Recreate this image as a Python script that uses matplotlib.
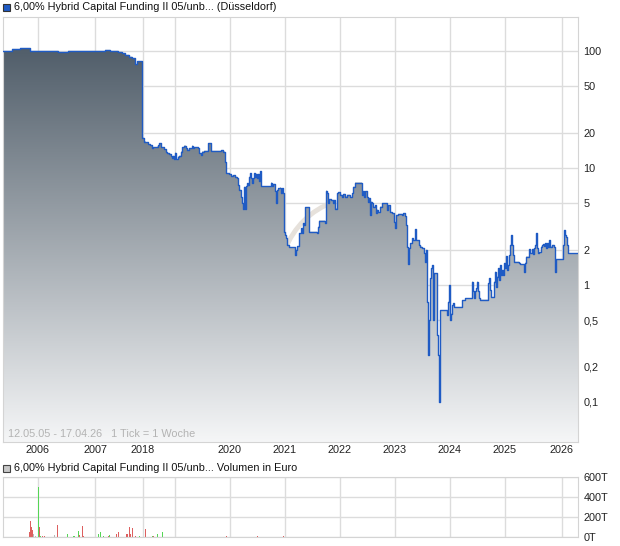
import numpy as np
import matplotlib
matplotlib.use('Agg')
import matplotlib.pyplot as plt
from matplotlib.colors import LinearSegmentedColormap
from matplotlib.patches import Rectangle, PathPatch
from matplotlib.path import Path
from matplotlib.ticker import NullLocator

plt.rcParams['font.family'] = ['Liberation Sans', 'DejaVu Sans']

# 1 tick = 1 week; the axis skips the years without quotes (2007 -> 2018)
weeks = [0, 9, 17, 27, 55, 65, 102, 107, 115, 119, 122, 126, 129, 132, 134, 139,
         141, 143, 145, 147, 149, 150, 154, 155, 156, 158, 160, 161, 163, 164, 166,
         168, 169, 170, 171, 172, 173, 175, 176, 178, 179, 181, 183, 184, 186, 189,
         190, 191, 195, 196, 198, 199, 201, 205, 208, 218, 220, 222, 223, 226, 228,
         230, 232, 234, 235, 236, 238, 239, 240, 241, 242, 243, 244, 245, 246, 247,
         248, 249, 250, 251, 252, 253, 254, 255, 256, 257, 258, 268, 269, 270, 272,
         273, 274, 275, 277, 278, 279, 280, 281, 282, 283, 284, 286, 292, 293, 294,
         296, 298, 299, 300, 301, 302, 306, 314, 315, 316, 322, 323, 324, 325, 326,
         328, 330, 331, 332, 334, 335, 337, 339, 340, 342, 344, 347, 349, 350, 352,
         359, 360, 361, 362, 364, 365, 366, 367, 368, 369, 370, 372, 373, 374, 375,
         377, 379, 384, 385, 387, 389, 391, 392, 393, 395, 399, 400, 402, 403, 404,
         405, 406, 407, 409, 410, 412, 413, 416, 417, 419, 421, 422, 423, 424, 425,
         426, 427, 428, 429, 430, 431, 434, 435, 436, 437, 444, 445, 446, 447, 448,
         449, 450, 451, 459, 462, 469, 470, 471, 472, 473, 474, 475, 476, 477, 485,
         486, 487, 488, 491, 492, 493, 494, 495, 496, 497, 498, 499, 500, 501, 502,
         503, 504, 505, 506, 507, 508, 509, 510, 511, 516, 517, 521, 522, 523, 526,
         527, 529, 530, 531, 532, 533, 534, 535, 536, 538, 539, 540, 541, 542, 543,
         544, 545, 546, 547, 549, 551, 552, 553, 560, 561, 562, 563, 564, 565, 575]
price = [100, 104, 106, 100, 98, 100, 102, 100, 98, 96, 92.5, 89, 87, 77, 82, 18.1,
         16.8, 16.6, 16.0, 15.6, 14.8, 15.1, 15.2, 15.7, 16.3, 15.0, 15.0, 14.5, 13.8, 13.4, 13.2,
         12.7, 12.2, 12.7, 11.9, 13.5, 11.9, 12.5, 12.7, 13.8, 15.0, 15.5, 14.8, 14.3, 14.8, 15.5,
         14.8, 15.0, 14.7, 13.4, 12.9, 13.8, 14.0, 16.3, 14.0, 14.1, 13.8, 11.3, 9.0, 8.9, 8.6,
         8.7, 8.4, 8.2, 7.1, 6.5, 5.7, 5.05, 4.5, 6.9, 4.5, 7.0, 7.4, 7.1, 8.4, 9.0,
         8.2, 7.4, 8.2, 9.0, 8.4, 8.9, 8.2, 8.9, 7.7, 9.4, 7.0, 7.5, 7.0, 7.3, 6.4,
         5.0, 6.5, 6.7, 6.8, 6.1, 6.7, 6.1, 2.85, 2.68, 2.5, 2.2, 2.1, 1.8, 2.0, 2.15,
         2.77, 3.05, 2.77, 3.37, 3.26, 4.6, 2.85, 2.78, 3.15, 3.55, 3.4, 6.4, 6.1, 5.0, 5.4,
         5.3, 5.0, 5.3, 4.5, 6.1, 6.2, 5.9, 5.7, 6.0, 5.7, 5.9, 5.65, 6.1, 6.9, 7.5,
         5.9, 6.3, 5.7, 6.3, 5.7, 5.15, 5.5, 3.97, 5.15, 5.0, 4.67, 4.8, 4.1, 4.4, 4.2,
         4.67, 5.0, 4.4, 4.8, 4.2, 4.1, 3.47, 3.05, 3.97, 4.05, 3.97, 4.1, 3.9, 3.26, 2.13,
         1.51, 2.06, 2.27, 2.5, 2.42, 3.0, 2.42, 2.2, 2.13, 2.07, 1.87, 1.58, 2.0, 0.72, 0.25,
         0.5, 1.14, 1.39, 1.48, 0.5, 1.26, 0.37, 0.25, 0.1, 0.61, 0.55, 0.72, 1.0, 0.5, 0.57,
         0.67, 0.7, 0.65, 0.74, 0.77, 1.07, 0.88, 0.77, 0.88, 0.94, 1.07, 0.88, 0.77, 0.75, 1.03,
         1.14, 0.91, 0.79, 1.07, 1.3, 0.97, 1.18, 1.39, 1.1, 1.48, 1.22, 1.34, 1.22, 1.53, 1.4,
         1.77, 1.34, 1.48, 1.8, 2.2, 2.67, 2.2, 1.8, 1.58, 1.55, 1.5, 1.3, 1.55, 1.75, 2.02,
         1.87, 2.02, 1.84, 2.06, 2.2, 2.77, 2.07, 1.88, 1.9, 2.13, 2.2, 2.24, 2.15, 2.27, 2.07,
         2.27, 2.13, 2.42, 2.13, 2.2, 2.13, 1.3, 1.66, 2.2, 2.95, 2.67, 2.59, 2.2, 1.87, 1.87]

year_ticks = [35, 92, 140, 172, 227, 282, 337, 392, 447, 502, 559]
year_labels = ['2006', '2007', '2018', '', '2020', '2021', '2022', '2023', '2024', '2025', '2026']

price_ticks = [0.1, 0.2, 0.5, 1, 2, 5, 10, 20, 50, 100]
price_labels = ['0,1', '0,2', '0,5', '1', '2', '5', '10', '20', '50', '100']

# weekly volume in thousand euro, r = falling, g = rising, n = unchanged
vol_weeks = [26, 27, 28, 29, 30, 32, 35, 36, 37, 39, 41, 51, 54, 64, 70, 71, 75, 76, 79, 80,
             89, 95, 97, 100, 105, 106, 113, 115, 123, 124, 126, 127, 129, 132, 136, 142,
             149, 150, 154, 159, 223, 229, 254, 257, 280, 283, 302, 324, 351, 395, 418,
             429, 543]
vol_values = [50, 163, 100, 70, 30, 10, 502, 100, 10, 10, 7, 20, 122, 34, 12, 12, 61, 20, 112, 7,
              5, 34, 54, 7, 12, 20, 27, 54, 27, 27, 100, 27, 88, 7, 7, 78,
              12, 7, 34, 54, 7, 5, 10, 5, 10, 5, 5, 5, 5, 3, 3,
              5, 5]
vol_dir = ['r', 'r', 'r', 'r', 'n', 'n', 'g', 'r', 'g', 'r', 'r', 'n', 'r', 'g', 'g', 'g', 'g', 'r', 'r', 'r',
           'g', 'g', 'g', 'g', 'r', 'g', 'r', 'r', 'r', 'r', 'r', 'r', 'r', 'r', 'g', 'r',
           'g', 'r', 'g', 'g', 'r', 'g', 'r', 'g', 'r', 'g', 'g', 'g', 'g', 'n', 'n',
           'r', 'g']

vol_ticks = [0, 200, 400, 600]
vol_labels = ['0T', '200T', '400T', '600T']

line_blue = '#1f5bc4'
grid_col = '#dcdcdc'
dir_colors = {'r': '#dd5f5f', 'g': '#55d655', 'n': '#b9b9b9'}
fs = 7.8
W, H = 620, 546

fig = plt.figure(figsize=(W / 100, H / 100), dpi=100)
ax = fig.add_axes([3 / W, 1 - 442 / H, 575 / W, 425 / H])
axv = fig.add_axes([3 / W, 1 - 537 / H, 575 / W, 60 / H])

# price panel
ymin, ymax = 0.0455, 195
ax.set_yscale('log')
ax.set_axisbelow(True)
ax.grid(True, color=grid_col, lw=1)

poly = ax.fill_between(weeks, price, ymin, step='post', facecolor='none', edgecolor='none')
cmap = LinearSegmentedColormap.from_list('fill', ['#f5f6f7', '#44525f'])
grad = np.linspace(0, 1, 256).reshape(-1, 1)
im = ax.imshow(grad, extent=(0, 1, 0, 1), transform=ax.transAxes, cmap=cmap,
               aspect='auto', origin='lower', zorder=1, interpolation='bilinear')
im.set_clip_path(poly.get_paths()[0], poly.get_transform())

# faint logo swoosh
sw = Path([(0.49, 0.452), (0.515, 0.535), (0.575, 0.565)],
          [Path.MOVETO, Path.CURVE3, Path.CURVE3])
ax.add_patch(PathPatch(sw, transform=ax.transAxes, fill=False, edgecolor='#e6e1db',
                       lw=3.5, zorder=0.8, capstyle='round'))

ax.plot(weeks, price, drawstyle='steps-post', color=line_blue, lw=1.0, zorder=3)

ax.set_xlim(0, 575)
ax.set_ylim(ymin, ymax)
ax.set_xticks(year_ticks, year_labels)
ax.set_yticks(price_ticks, price_labels)
ax.yaxis.set_minor_locator(NullLocator())
ax.yaxis.tick_right()
ax.tick_params(length=0, labelsize=fs, colors='#222222')
ax.tick_params(axis='x', pad=2)
ax.tick_params(axis='y', pad=4)
for s in ax.spines.values():
    s.set_color('#d4d4d4')

ax.text(5 / 575, 8 / 425, '12.05.05 - 17.04.26   1 Tick = 1 Woche', transform=ax.transAxes,
        fontsize=fs, color='#b3b3b3', va='center', ha='left', zorder=4)

# volume panel
axv.set_axisbelow(True)
axv.grid(True, color=grid_col, lw=1)
axv.bar(vol_weeks, vol_values, width=1.0, color=[dir_colors[d] for d in vol_dir], zorder=2)
axv.set_xlim(0, 575)
axv.set_ylim(0, 600)
axv.set_xticks(year_ticks, [''] * len(year_ticks))
axv.set_yticks(vol_ticks, vol_labels)
axv.yaxis.tick_right()
axv.tick_params(length=0, labelsize=fs, colors='#222222')
axv.tick_params(axis='y', pad=4)
for s in axv.spines.values():
    s.set_color('#d4d4d4')

# titles with legend squares
fig.patches.append(Rectangle((3 / W, 1 - 11 / H), 7 / W, 7 / H, transform=fig.transFigure,
                             facecolor=line_blue, edgecolor='#333333', lw=0.8))
fig.text(14 / W, 1 - 7 / H, '6,00% Hybrid Capital Funding II 05/unb... (Düsseldorf)',
         fontsize=fs, color='#111111', va='center', ha='left')
fig.patches.append(Rectangle((3 / W, 1 - 472 / H), 7 / W, 7 / H, transform=fig.transFigure,
                             facecolor='#c8c8c8', edgecolor='#444444', lw=0.8))
fig.text(14 / W, 1 - 468 / H, '6,00% Hybrid Capital Funding II 05/unb... Volumen in Euro',
         fontsize=fs, color='#111111', va='center', ha='left')

fig.savefig('out.png', dpi=100)
